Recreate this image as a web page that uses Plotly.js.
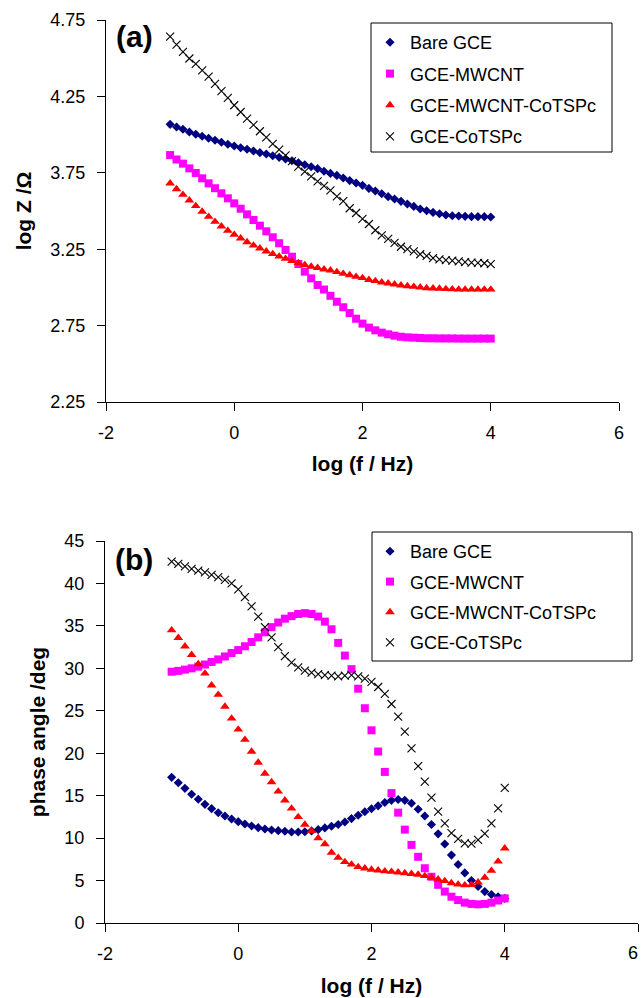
<!DOCTYPE html>
<html>
<head>
<meta charset="utf-8">
<script src="https://cdn.plot.ly/plotly-3.0.1.min.js"></script>
<style>html,body{margin:0;padding:0;background:#fff;}#chart{width:641px;height:998px;}</style>
</head>
<body>
<div id="chart"></div>
<script>
// log (f / Hz)
const logF = [-1.0,-0.9,-0.8,-0.7,-0.6,-0.5,-0.4,-0.3,-0.2,-0.1,
  0.0,0.1,0.2,0.3,0.4,0.5,0.6,0.7,0.8,0.9,
  1.0,1.1,1.2,1.3,1.4,1.5,1.6,1.7,1.8,1.9,
  2.0,2.1,2.2,2.3,2.4,2.5,2.6,2.7,2.8,2.9,
  3.0,3.1,3.2,3.3,3.4,3.5,3.6,3.7,3.8,3.9,4.0];

const seriesNames = ["Bare GCE", "GCE-MWCNT", "GCE-MWCNT-CoTSPc", "GCE-CoTSPc"];

// tick labels
const xTickVals = [-2, 0, 2, 4, 6];
const xTickText = ["-2", "0", "2", "4", "6"];
const xTickTextBottom = ["-2", "0", "2", "4", ""];   // "6" is drawn as a note so it is not clipped
const lastXTickLabel = "6";
const yTopTickVals = [2.25, 2.75, 3.25, 3.75, 4.25, 4.75];
const yTopTickText = ["2.25", "2.75", "3.25", "3.75", "4.25", "4.75"];
const yBotTickVals = [0, 5, 10, 15, 20, 25, 30, 35, 40, 45];

// (a) log Z / Ohm
const logZ_bare = [4.067,4.050,4.035,4.017,4.002,3.989,3.976,3.963,3.950,3.937,
  3.925,3.914,3.904,3.893,3.882,3.873,3.862,3.851,3.840,3.829,
  3.816,3.803,3.790,3.777,3.760,3.746,3.733,3.716,3.699,3.683,
  3.668,3.648,3.631,3.613,3.594,3.579,3.563,3.546,3.530,3.513,
  3.502,3.491,3.482,3.474,3.469,3.467,3.465,3.463,3.463,3.463,3.461];
const logZ_mwcnt = [3.866,3.837,3.810,3.779,3.749,3.714,3.681,3.649,3.616,3.583,
  3.550,3.515,3.478,3.441,3.404,3.367,3.328,3.289,3.245,3.201,
  3.153,3.103,3.059,3.016,2.986,2.945,2.906,2.870,2.832,2.795,
  2.763,2.737,2.719,2.704,2.693,2.684,2.677,2.673,2.671,2.669,
  2.667,2.667,2.666,2.666,2.666,2.665,2.665,2.665,2.665,2.665,2.665];
const logZ_mwcntCo = [3.681,3.644,3.607,3.570,3.533,3.496,3.463,3.430,3.400,3.371,
  3.345,3.321,3.297,3.275,3.256,3.236,3.219,3.203,3.188,3.173,
  3.160,3.147,3.136,3.128,3.118,3.112,3.101,3.090,3.081,3.070,
  3.062,3.050,3.042,3.033,3.027,3.020,3.014,3.009,3.005,3.001,
  2.996,2.994,2.992,2.990,2.988,2.987,2.987,2.987,2.987,2.987,2.987];
const logZ_coTSPc = [4.641,4.589,4.541,4.498,4.463,4.421,4.379,4.332,4.284,4.240,
  4.192,4.148,4.105,4.063,4.022,3.982,3.939,3.901,3.864,3.827,
  3.790,3.757,3.727,3.694,3.665,3.635,3.596,3.565,3.518,3.487,
  3.448,3.415,3.374,3.341,3.318,3.291,3.266,3.251,3.236,3.217,
  3.206,3.192,3.184,3.179,3.175,3.171,3.166,3.162,3.160,3.158,3.153];

// (b) phase angle / deg
const phase_bare = [17.16,16.53,15.86,15.16,14.57,13.98,13.47,12.99,12.60,12.25,
  11.94,11.66,11.43,11.23,11.07,10.96,10.88,10.80,10.72,10.72,
  10.75,10.85,11.00,11.20,11.40,11.60,11.90,12.30,12.70,13.10,
  13.45,13.80,14.20,14.45,14.55,14.45,14.10,13.40,12.60,11.60,
  10.50,9.30,8.00,6.90,5.90,5.00,4.30,3.70,3.35,3.10,2.90];
const phase_mwcnt = [29.60,29.70,29.85,30.00,30.20,30.45,30.75,31.05,31.40,31.80,
  32.15,32.60,33.10,33.65,34.25,34.85,35.40,35.85,36.15,36.40,
  36.50,36.40,36.10,35.50,34.60,33.00,31.50,29.90,27.60,25.30,
  22.70,20.20,17.80,15.30,13.00,11.00,9.20,7.80,6.45,5.45,
  4.50,3.70,3.10,2.70,2.40,2.25,2.20,2.25,2.40,2.65,2.90];
const phase_mwcntCo = [34.50,33.60,32.60,31.60,30.50,29.40,28.00,26.90,25.50,24.10,
  22.80,21.60,20.20,18.90,17.60,16.60,15.50,14.45,13.50,12.50,
  11.60,10.85,10.00,9.30,8.30,7.70,7.20,6.90,6.60,6.45,
  6.30,6.20,6.10,6.05,5.97,5.88,5.80,5.70,5.55,5.35,
  5.15,4.95,4.70,4.55,4.45,4.50,4.80,5.35,6.16,7.25,8.80];
const phase_coTSPc = [42.56,42.30,42.00,41.72,41.50,41.30,41.00,40.75,40.42,40.00,
  39.30,38.40,37.30,36.10,34.85,33.65,32.50,31.45,30.66,30.12,
  29.72,29.49,29.33,29.21,29.13,29.05,29.15,29.20,29.05,28.80,
  28.40,27.80,27.00,25.80,24.30,22.54,20.58,18.49,16.65,14.78,
  13.11,11.74,10.60,9.90,9.38,9.35,9.78,10.52,11.74,13.51,15.92];

const W = 641, H = 998;
const FONT = "Liberation Sans, Arial, Helvetica, sans-serif";

const markerStyles = [
  {symbol: "diamond", size: 7, color: "#000080", line: {width: 0}},
  {symbol: "square", size: 8, color: "#FF00FF", line: {width: 0}},
  {symbol: "triangle-up", size: 8.5, color: "#FF0000", line: {width: 0}},
  {symbol: "x-thin-open", size: 8, color: "#000000", line: {width: 1.1, color: "#000000"}}
];

const topData = [logZ_bare, logZ_mwcnt, logZ_mwcntCo, logZ_coTSPc];
const botData = [phase_bare, phase_mwcnt, phase_mwcntCo, phase_coTSPc];

const traces = [];
topData.forEach((ys, i) => {
  traces.push({
    type: "scatter", mode: "markers", name: seriesNames[i],
    x: logF, y: ys, xaxis: "x", yaxis: "y",
    legend: "legend", legendgroup: "a" + i,
    marker: markerStyles[i], hoverinfo: "skip"
  });
});
botData.forEach((ys, i) => {
  traces.push({
    type: "scatter", mode: "markers", name: seriesNames[i],
    x: logF, y: ys, xaxis: "x2", yaxis: "y2",
    legend: "legend2", legendgroup: "b" + i,
    marker: markerStyles[i], hoverinfo: "skip"
  });
});

const axisCommon = {
  showline: true, linecolor: "#000", linewidth: 1,
  ticks: "outside", ticklen: 8, tickwidth: 1, tickcolor: "#000",
  showgrid: false, zeroline: false,
  tickfont: {family: FONT, size: 18, color: "#000"},
  ticklabeloverflow: "allow",
  automargin: false
};

const titleFont = {family: FONT, size: 21, color: "#000", weight: "bold"};

const layout = {
  width: W, height: H,
  margin: {l: 0, r: 0, t: 0, b: 0},
  paper_bgcolor: "#fff", plot_bgcolor: "#fff",
  font: {family: FONT, color: "#000"},
  showlegend: true,
  xaxis: Object.assign({}, axisCommon, {
    domain: [106 / W, 619 / W], anchor: "y",
    range: [-2, 6], tickmode: "array", tickvals: xTickVals, ticktext: xTickText,
    ticklabelstandoff: 6,
    title: {text: "log (f / Hz)", font: titleFont, standoff: 14}
  }),
  yaxis: Object.assign({}, axisCommon, {
    domain: [1 - 402 / H, 1 - 20 / H], anchor: "x",
    range: [2.25, 4.75], tickmode: "array", tickvals: yTopTickVals, ticktext: yTopTickText,
    ticklabelstandoff: 8,
    title: {text: "log Z /Ω", font: titleFont, standoff: 13}
  }),
  xaxis2: Object.assign({}, axisCommon, {
    domain: [105 / W, 638 / W], anchor: "y2",
    range: [-2, 6], tickmode: "array", tickvals: xTickVals, ticktext: xTickTextBottom,
    ticklabelstandoff: 6,
    title: {text: "log (f / Hz)", font: titleFont, standoff: 15}
  }),
  yaxis2: Object.assign({}, axisCommon, {
    domain: [1 - 923 / H, 1 - 541 / H], anchor: "x2",
    range: [0, 45], tickmode: "array", tickvals: yBotTickVals,
    ticklabelstandoff: 8,
    title: {text: "phase angle /deg", font: titleFont, standoff: 13}
  }),
  legend: {
    x: 370 / W, xanchor: "left", y: 1 - 24 / H, yanchor: "top",
    bgcolor: "rgba(0,0,0,0)", borderwidth: 0,
    font: {family: FONT, size: 18, color: "#000"},
    tracegroupgap: 5, traceorder: "grouped"
  },
  legend2: {
    x: 370 / W, xanchor: "left", y: 1 - 533 / H, yanchor: "top",
    bgcolor: "rgba(0,0,0,0)", borderwidth: 0,
    font: {family: FONT, size: 18, color: "#000"},
    tracegroupgap: 4, traceorder: "grouped"
  },
  shapes: [
    {type: "rect", xref: "paper", yref: "paper",
     x0: 371 / W, x1: 612 / W, y0: 1 - 152 / H, y1: 1 - 23 / H,
     line: {color: "#000", width: 1}, fillcolor: "rgba(0,0,0,0)", layer: "above"},
    {type: "rect", xref: "paper", yref: "paper",
     x0: 372 / W, x1: 632 / W, y0: 1 - 661 / H, y1: 1 - 532 / H,
     line: {color: "#000", width: 1}, fillcolor: "rgba(0,0,0,0)", layer: "above"}
  ],
  annotations: [
    {text: "(a)", xref: "paper", yref: "paper", x: 134 / W, y: 1 - 36 / H,
     xanchor: "center", yanchor: "middle", showarrow: false,
     font: {family: FONT, size: 30, color: "#000", weight: "bold"}},
    {text: "(b)", xref: "paper", yref: "paper", x: 134 / W, y: 1 - 559 / H,
     xanchor: "center", yanchor: "middle", showarrow: false,
     font: {family: FONT, size: 30, color: "#000", weight: "bold"}},
    {text: lastXTickLabel, xref: "paper", yref: "paper", x: 640 / W, y: 1 - 953 / H,
     xanchor: "right", yanchor: "middle", showarrow: false,
     font: {family: FONT, size: 18, color: "#000"}}
  ]
};

Plotly.newPlot("chart", traces, layout, {staticPlot: true, displayModeBar: false});
</script>
</body>
</html>
